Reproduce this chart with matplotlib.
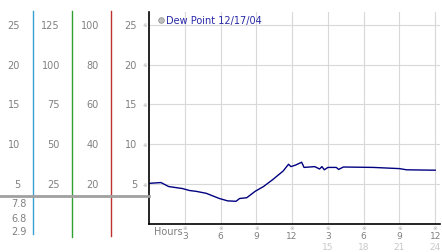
import matplotlib.pyplot as plt
import matplotlib.transforms as mtransforms

# dew point readings (hour of day, deg)
hours = [0, 1.0, 1.65, 2.8, 3.4, 3.95, 4.8, 5.9, 6.6, 7.3, 7.6, 8.2, 8.9, 9.6, 10.4,
         11.25, 11.7, 11.9, 12.3, 12.8, 13.0, 13.9, 14.3, 14.5, 14.7, 15.0, 15.7,
         15.9, 16.3, 18.8, 21.0, 21.6, 24.0]
dew = [5.1, 5.2, 4.7, 4.45, 4.2, 4.1, 3.85, 3.2, 2.9, 2.85, 3.2, 3.3, 4.1, 4.7, 5.6,
       6.65, 7.5, 7.2, 7.4, 7.75, 7.1, 7.2, 6.9, 7.2, 6.8, 7.1, 7.1,
       6.85, 7.15, 7.1, 6.95, 6.8, 6.75]

yticks = [5, 10, 15, 20, 25]
col1 = ['5', '10', '15', '20', '25']
col2 = ['25', '50', '75', '100', '125']
col3 = ['20', '40', '60', '80', '100']
col4 = ['5', '10', '15', '20', '25']
low_labels = ['7.8', '6.8', '2.9']
xticks = [3, 6, 9, 12, 15, 18, 21, 24]
xlab_top = ['3', '6', '9', '12', '3', '6', '9', '12']
xlab_bot = ['', '', '', '', '15', '18', '21', '24']

W, H = 442, 253
fig = plt.figure(figsize=(W / 100, H / 100), dpi=100)
ax = fig.add_axes([149 / W, (H - 225) / H, (440 - 149) / W, (225 - 13) / H])

ax.plot(hours, dew, color='#000080', lw=1)
ax.set_xlim(0, 24.4)
ax.set_ylim(0, 26.6)
ax.set_xticks(xticks)
ax.set_yticks(yticks)
ax.grid(True, color='#d8d8d8', lw=0.8)
ax.tick_params(length=0, labelleft=False, labelbottom=False)
for s in ['top', 'right']:
    ax.spines[s].set_visible(False)
for s in ['left', 'bottom']:
    ax.spines[s].set_color('black')
    ax.spines[s].set_linewidth(1.2)

gray = '#808080'
fs = 7
xfs = 6.5
# x labels
xt = mtransforms.blended_transform_factory(ax.transData, fig.transFigure)
for x, a, b in zip(xticks, xlab_top, xlab_bot):
    fig.text(x, 1 - 229 / H, '※', transform=xt, ha='center', va='center', fontsize=4, color='#aaaaaa')
    ax.text(x, 1 - 237 / H, a, transform=xt, ha='center', va='center', fontsize=xfs, color=gray)
    if b:
        ax.text(x, 1 - 247.5 / H, b, transform=xt, ha='center', va='center', fontsize=xfs, color='#c8c8c8')
fig.text(154 / W, 1 - 232 / H, 'Hours', ha='left', va='center', fontsize=fs, color=gray)

# left columns of scales
yt = mtransforms.blended_transform_factory(fig.transFigure, ax.transData)
for y, a, b, c, d in zip(yticks, col1, col2, col3, col4):
    fig.text(20 / W, y, a, transform=yt, ha='right', va='center', fontsize=fs, color=gray)
    fig.text(60 / W, y, b, transform=yt, ha='right', va='center', fontsize=fs, color=gray)
    fig.text(99 / W, y, c, transform=yt, ha='right', va='center', fontsize=fs, color=gray)
    fig.text(137 / W, y, d, transform=yt, ha='right', va='center', fontsize=fs, color=gray)
    fig.text(145 / W, y, '※', transform=yt, ha='center', va='center', fontsize=4, color='#aaaaaa')

for x, c, y1 in [(33, '#3aa0d0', 235), (72, '#30a030', 238), (111, '#c03030', 237)]:
    fig.add_artist(plt.Line2D([x / W, x / W], [1 - 12 / H, 1 - y1 / H], color=c, lw=1))
fig.add_artist(plt.Line2D([0, 149 / W], [1 - 197 / H, 1 - 197 / H], color='#a0a0a0', lw=2))
for lab, y in zip(low_labels, [204, 219, 232]):
    fig.text(27 / W, 1 - y / H, lab, ha='right', va='center', fontsize=fs, color=gray)

# legend
fig.add_artist(plt.Line2D([161 / W], [1 - 21 / H], marker='o', ms=4, mfc='#c0c0c0', mec='#909090', mew=0.6))
fig.text(166 / W, 1 - 21 / H, 'Dew Point 12/17/04', ha='left', va='center', fontsize=fs, color='#2828a8')

fig.savefig('out.png', dpi=100)
